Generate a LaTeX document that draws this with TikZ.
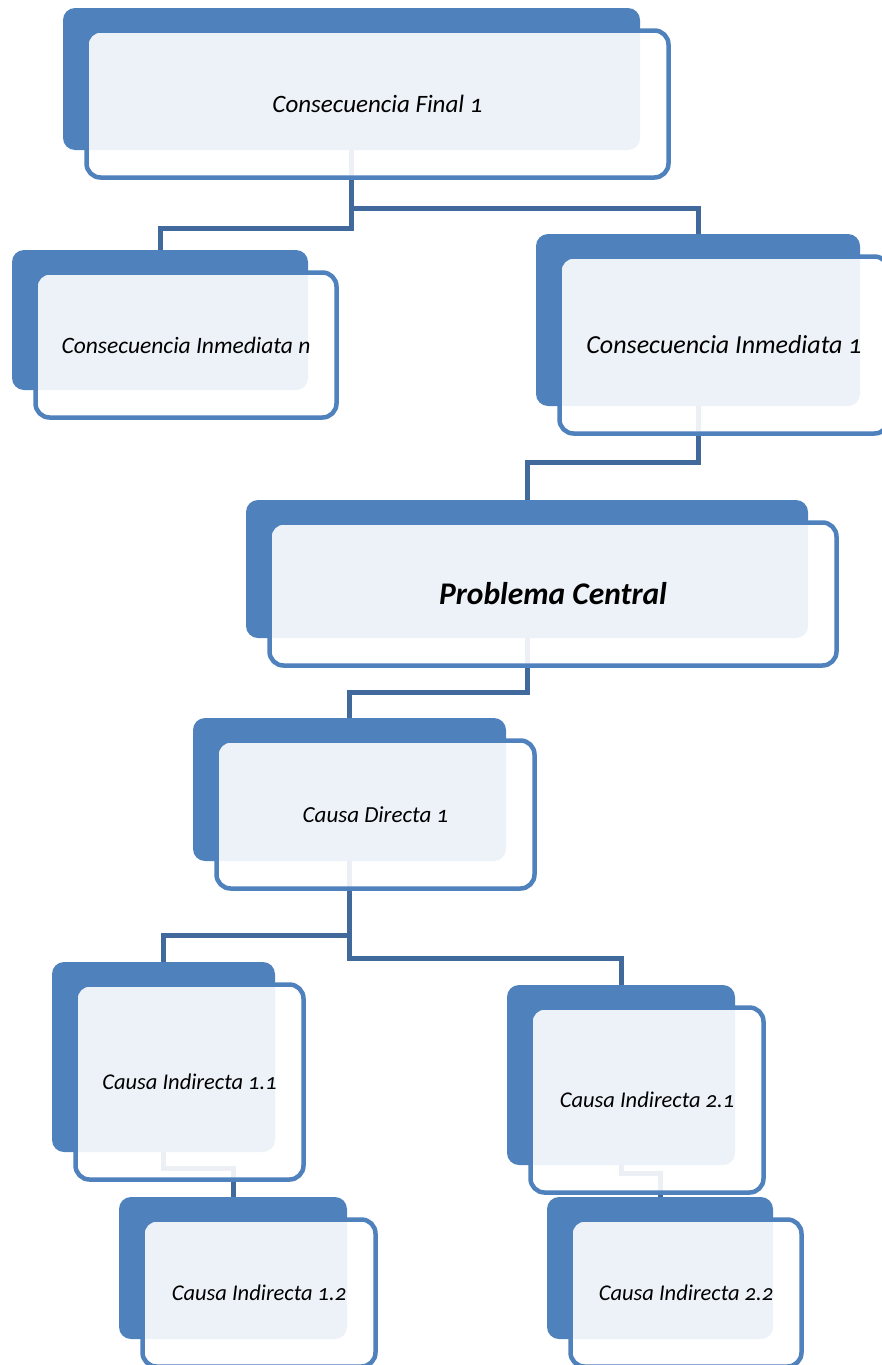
\documentclass[tikz,border=0pt]{standalone}
\usepackage{fontspec}
\setmainfont{Carlito}[Numbers=OldStyle]
\usetikzlibrary{calc}
\pgfdeclarelayer{bg}
\pgfsetlayers{bg,main}
\definecolor{boxblue}{HTML}{4F81BD}
\definecolor{linkblue}{HTML}{41699C}
\tikzset{
	backbox/.style={fill=boxblue, rounded corners=12pt, inner sep=0pt},
	frontbox/.style={draw=boxblue, line width=4.5pt, fill=white, fill opacity=0.9, text opacity=1, rounded corners=14pt, inner sep=2pt, font=\itshape},
	link/.style={draw=linkblue, line width=5pt}
}
\def\causebox(#1)(#2,#3)(#4:#5)[#6]#7{%
	\node[backbox, minimum width=#4pt, minimum height=#5pt] (#1b) at (#2,#3) {};
	\node[frontbox, minimum width=#4pt+5pt, minimum height=#5pt+5pt] (#1) at ($(#1b)+(26,25)$) {\fontsize{#6}{#6}\selectfont #7};}

\begin{document}
\begin{tikzpicture}[x=1pt, y=-1pt]
		%%%%% START %%%%%
		\useasboundingbox (0,0) rectangle (881,1365);
		
		% consecuencias
		\causebox(cf1)(351.5,79)(577:142)[25]{Consecuencia Final 1}
		\causebox(cin)(160,320)(296:140)[23.5]{Consecuencia Inmediata n}
		\causebox(ci1)(698,320)(324:172)[26]{Consecuencia Inmediata 1}
		
		% problema
		\causebox(pc)(527,569)(562:138)[31.5]{\bfseries Problema Central}
		
		% causas
		\causebox(cd1)(349.5,789.5)(313:143)[23]{Causa Directa 1}
		\causebox(ci11)(163.5,1057)(223:190)[22.5]{Causa Indirecta 1.1}
		\causebox(ci21)(621,1075)(228:180)[22.5]{Causa Indirecta 2.1}
		\causebox(ci12)(233,1268)(228:142)[22.5]{Causa Indirecta 1.2}
		\causebox(ci22)(660,1268)(226:142)[22.5]{Causa Indirecta 2.2}
		
		\begin{pgfonlayer}{bg}
			\draw[link] (cf1b.south) -- ++(0,78) -| (cinb.north);
			\draw[link] (cf1b.south) -- ++(0,58) -| (ci1b.north);
			\draw[link] (ci1b.south) -- ++(0,56) -| (pcb.north);
			\draw[link] (pcb.south) -- ++(0,54) -| (cd1b.north);
			\draw[link] (cd1b.south) -- ++(0,74) -| (ci11b.north);
			\draw[link] (cd1b.south) -- ++(0,97) -| (ci21b.north);
			\draw[link] (ci11b.south) -- ++(0,16) -| (ci12b.north);
			\draw[link] (ci21b.south) -- ++(0,8) -| (ci22b.north);
		\end{pgfonlayer}
		%%%%% END %%%%%
\end{tikzpicture}
\end{document}
